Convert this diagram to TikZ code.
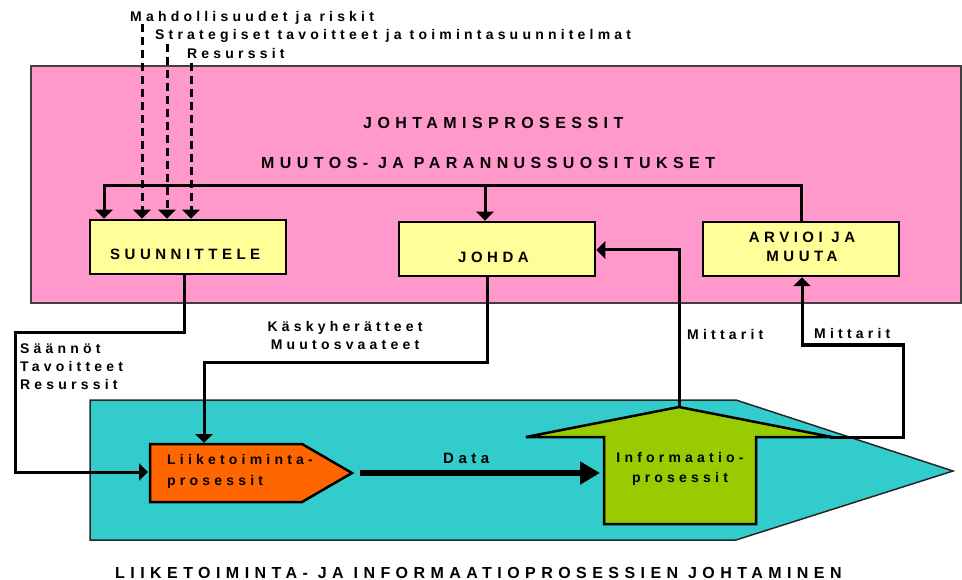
\documentclass[tikz,border=0pt]{standalone}
\usepackage{fontspec}
\setmainfont{Liberation Sans}
\newfontfamily\lblfont{Liberation Sans Bold}[LetterSpace=30]
\newfontfamily\ttlfont{Liberation Sans Bold}[LetterSpace=34]
\usetikzlibrary{arrows.meta,calc}
\definecolor{pinkbg}{HTML}{FF99CC}
\definecolor{boxyel}{HTML}{FFFF99}
\definecolor{tealbg}{HTML}{33CCCC}
\definecolor{bizor}{HTML}{FF6600}
\definecolor{infogr}{HTML}{99CC00}
\begin{document}
\begin{tikzpicture}[x=1pt,y=-1pt,
  conn/.style={line width=3pt,line join=miter},
  tip/.style={-{Triangle[width=17pt,length=9pt]}},
  dsh/.style={line width=3pt,dash pattern=on 8pt off 5pt},
  box/.style={draw,line width=2.5pt,fill=boxyel,minimum width=196pt,minimum height=54pt,inner sep=0pt},
  txt/.style={inner sep=0pt,anchor=base west,font=\lblfont\fontsize{14}{16}\selectfont},
  mid/.style={txt,font=\lblfont\fontsize{15}{18}\selectfont},
  big/.style={txt,font=\ttlfont\fontsize{16}{19}\selectfont},
  ctr/.style={anchor=base}]
\useasboundingbox (0,0) rectangle (962,580);

% management area
\draw[fill=pinkbg,draw=black!75,line width=1.5pt] (31,66) rectangle (961,303);

% business / information area
\draw[fill=tealbg,draw=black!85,line width=1.5pt]
  (90,400) -- (736,400) -- (953,471) -- (736,540) -- (90,540) -- cycle;

% business process pentagon
\draw[fill=bizor,line width=2.5pt,line join=miter]
  (150,444) -- (302,444) -- (352,473) -- (302,502) -- (150,502) -- cycle;
\coordinate (bizW) at (148,472);
\coordinate (bizN) at (204,443);
\coordinate (bizE) at (360,473);

% information process arrow
\draw[fill=infogr,line width=2.5pt,line join=miter]
  (679,407) -- (832,437) -- (756,437) -- (756,524) -- (604,524) -- (604,437) -- (526,437) -- cycle;
\coordinate (infoN) at (679,407);
\coordinate (infoE) at (830,437);
\coordinate (infoW) at (600,473);

% process boxes
\node[box] (plan) at (188,247) {};
\node[box] (lead) at (497,249) {};
\node[box] (eval) at (801,249) {};

% box labels
\node[mid] (planT) at (110,260) {SUUNNITTELE};
\node[mid] (leadT) at (458,263) {JOHDA};
\node[mid,ctr] (evalT1) at (802,243) {ARVIOI JA};
\node[mid,ctr] (evalT2) at (802,262) {MUUTA};

% titles
\node[big] (mgmt) at (363,129) {JOHTAMISPROSESSIT};
\node[big] (recs) at (261,169) {MUUTOS- JA PARANNUSSUOSITUKSET};
\node[big] (bottom) at (115,578) {LIIKETOIMINTA- JA INFORMAATIOPROSESSIEN JOHTAMINEN};

% external inputs
\node[txt] (in1) at (130,22) {Mahdollisuudet ja riskit};
\node[txt] (in2) at (155,40) {Strategiset tavoitteet ja toimintasuunnitelmat};
\node[txt] (in3) at (187,59) {Resurssit};
\coordinate (d1) at (142,24);
\coordinate (d2) at (167,44);
\coordinate (d3) at (191,63);
\draw[dsh,tip] (d1) -- (d1 |- plan.north);
\draw[dsh,tip] (d2) -- (d2 |- plan.north);
\draw[dsh,tip] (d3) -- (d3 |- plan.north);

% feedback from evaluation
\coordinate (fbL) at (104,186);
\coordinate (fbM) at (485,186);
\draw[conn,tip] (eval.north) |- (fbL) -- (fbL |- plan.north);
\draw[conn,tip] (fbM) -- (fbM |- lead.north);

% plan -> business process
\draw[conn,tip] (plan.south -| 184,0) -- (184,333) -- (15,333) -- (15,472) -- (bizW);
\node[txt] (r1) at (20,353) {Säännöt};
\node[txt] (r2) at (20,371) {Tavoitteet};
\node[txt] (r3) at (20,389) {Resurssit};

% lead -> business process
\draw[conn,tip] (lead.south -| 487,0) -- (487,362) -- (204,362) -- (bizN);
\node[txt,ctr] (k1) at (345,331) {Käskyherätteet};
\node[txt,ctr] (k2) at (345,349) {Muutosvaateet};

% data flow
\draw[line width=6pt,-{Triangle[width=22pt,length=20pt]}] (bizE) -- (infoW);
\node[mid] (data) at (443,463) {Data};

% process labels
\node[txt] (b1) at (167,464) {Liiketoiminta-};
\node[txt] (b2) at (167,485) {prosessit};
\node[txt,ctr] (i1) at (680,462) {Informaatio-};
\node[txt,ctr] (i2) at (680,482) {prosessit};

% measurements back to management
\draw[conn,tip] (infoN) -- (679,250) -- (lead.east |- 0,250);
\node[txt] (m1) at (687,339) {Mittarit};
\draw[conn,tip] (infoE) -- (903,437) -- (903,345) -- (802,345) -- (eval.south -| 802,0);
\node[txt] (m2) at (814,338) {Mittarit};
\end{tikzpicture}
\end{document}
